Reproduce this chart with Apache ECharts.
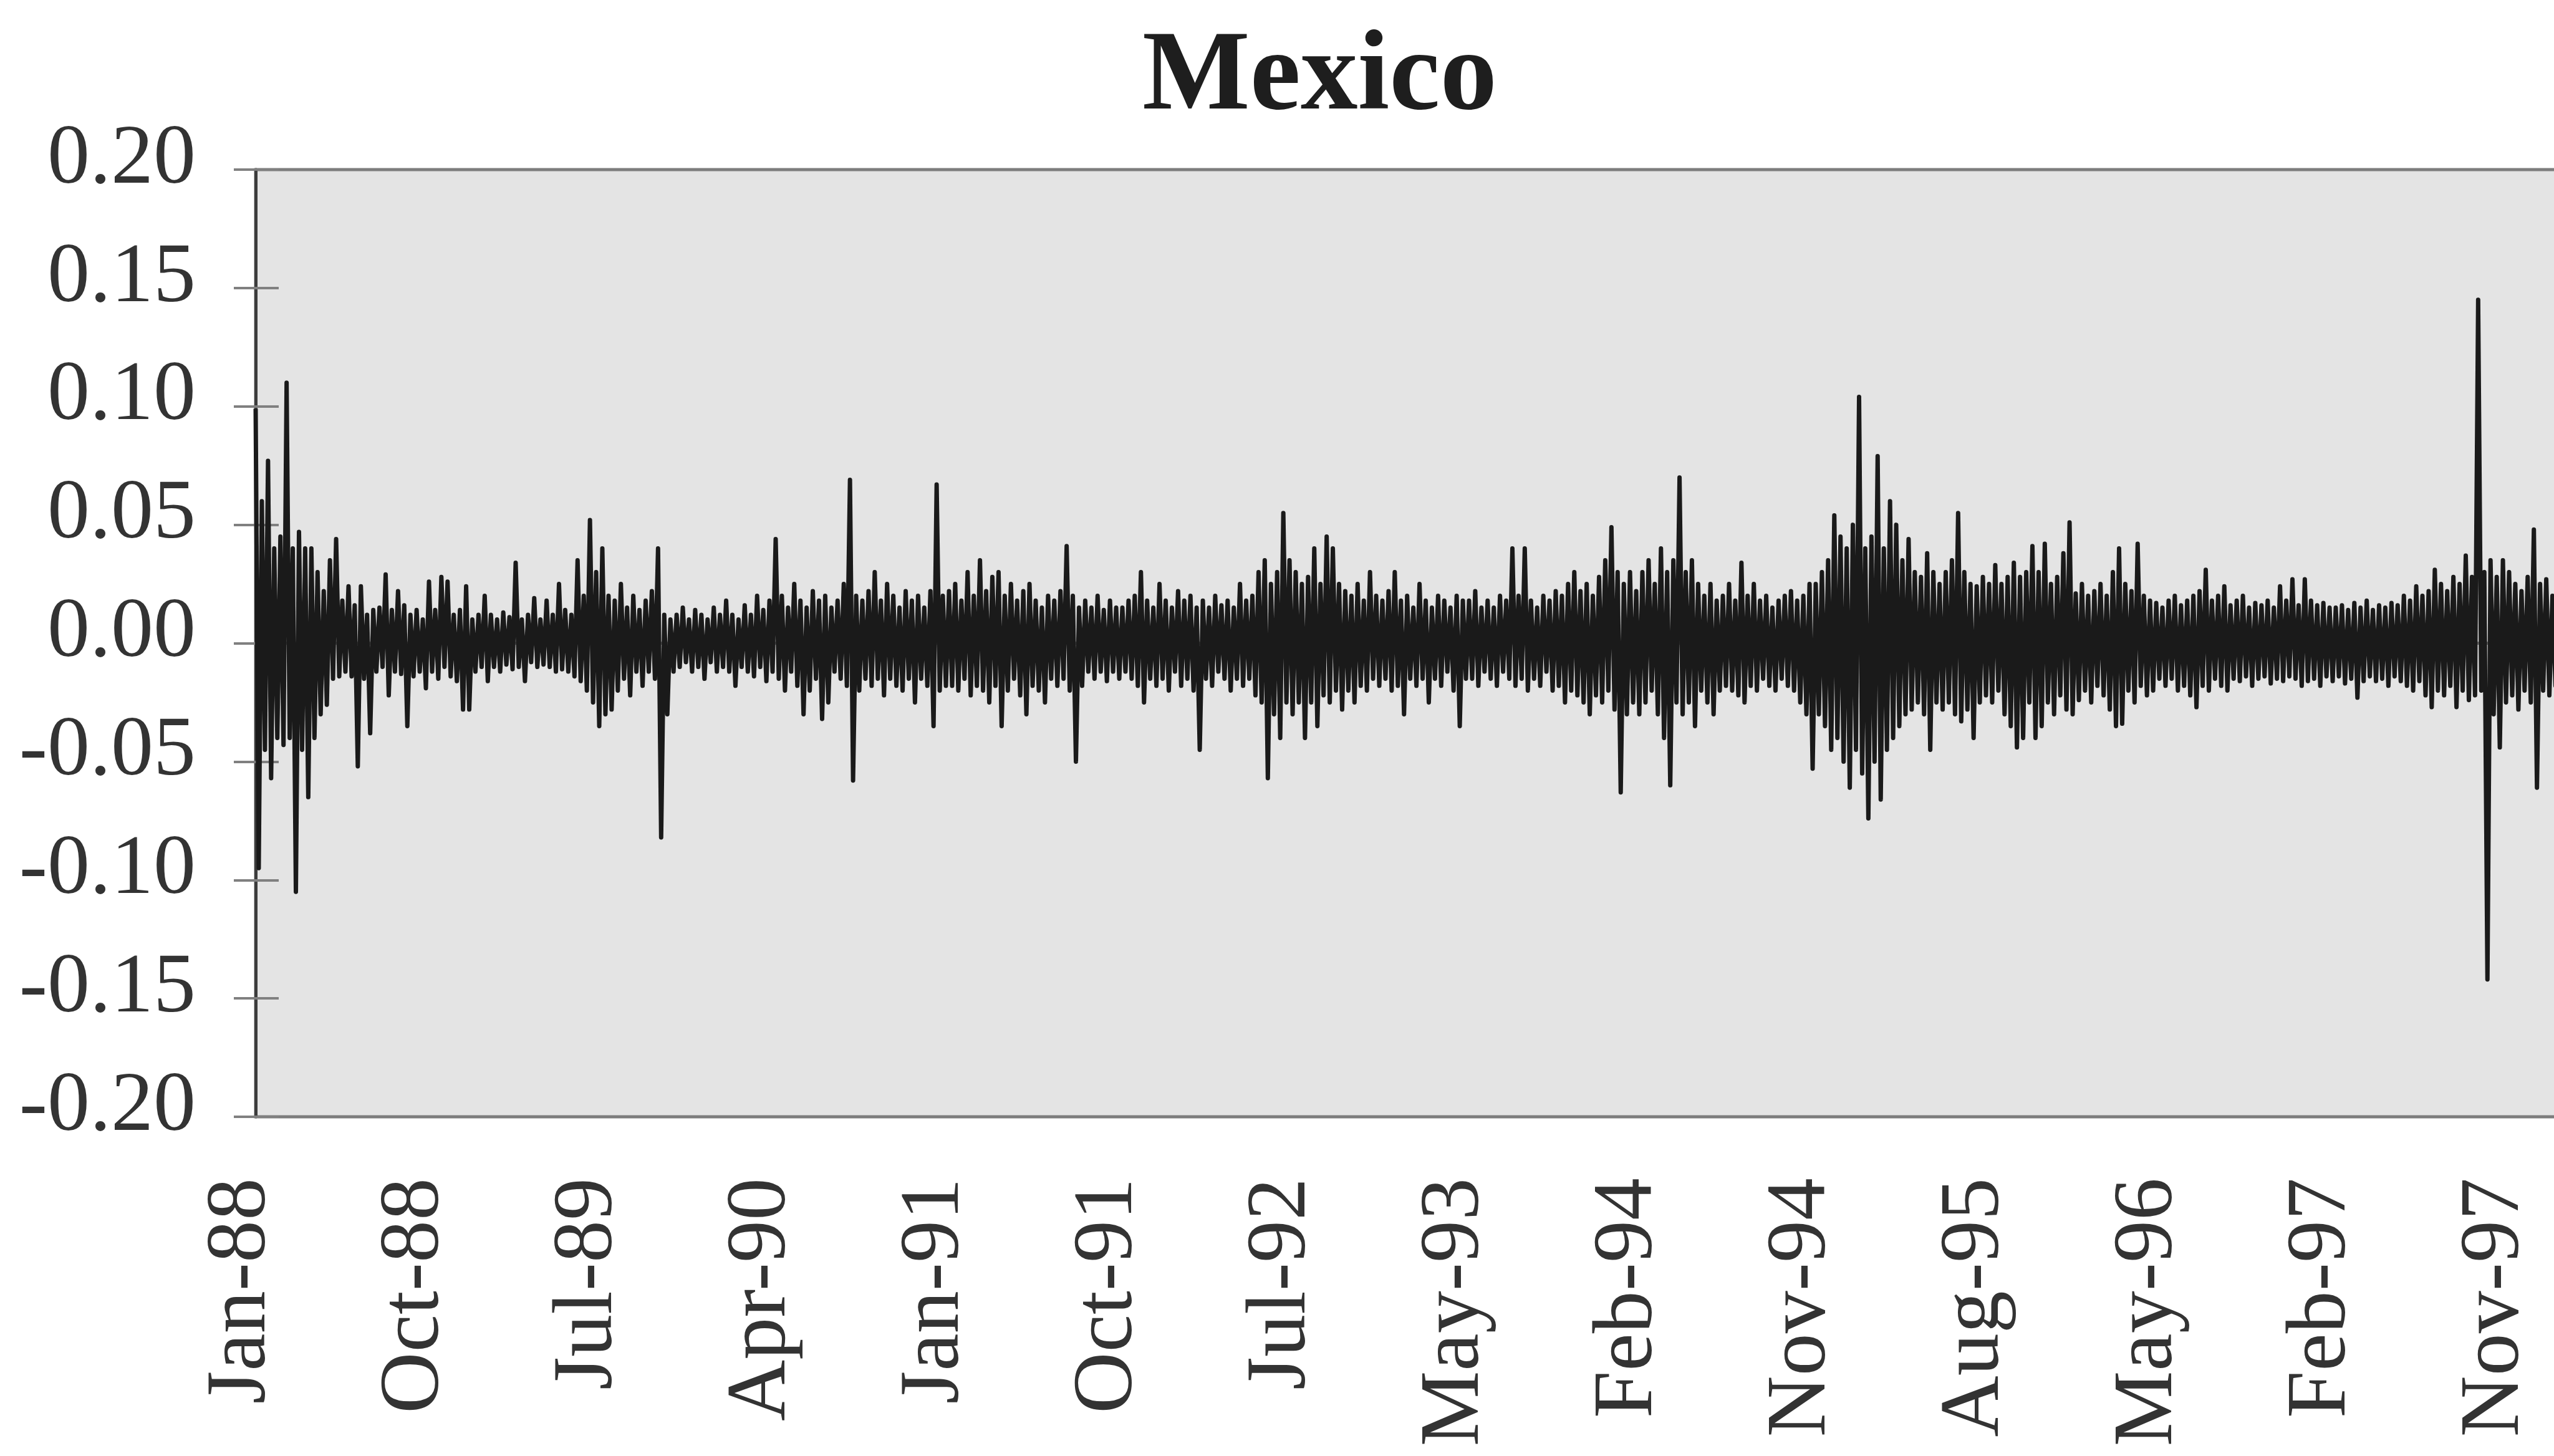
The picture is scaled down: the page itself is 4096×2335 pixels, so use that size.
<!DOCTYPE html>
<html>
<head>
<meta charset="utf-8">
<title>Mexico</title>
<script src="https://cdn.jsdelivr.net/npm/echarts@6/dist/echarts.min.js"></script>
<style>
  html, body { margin: 0; padding: 0; background: #ffffff; }
  #chart { width: 4096px; height: 2335px; }
</style>
</head>
<body>
<div id="chart"></div>
<script>
// Category labels along the date axis (one every 28 buckets of trading days)
const xTickLabels = ['Jan-88', 'Oct-88', 'Jul-89', 'Apr-90', 'Jan-91', 'Oct-91', 'Jul-92',
                     'May-93', 'Feb-94', 'Nov-94', 'Aug-95', 'May-96', 'Feb-97', 'Nov-97'];

// Return axis ticks
const yTicks = [-0.20, -0.15, -0.10, -0.05, 0.00, 0.05, 0.10, 0.15, 0.20];

// Daily returns summarised per bucket: highest and lowest return in each bucket.
// Each row below covers one labelled period (28 buckets).
const upper = [
  .099,.060,.077,.040,.045,.110,.040,.047,.040,.040,.030,.022,.035,.044,.018,.024,.016,.024,.012,.014,.015,.029,.014,.022,.016,.012,.014,.010,
  .026,.014,.028,.026,.012,.014,.024,.010,.012,.020,.012,.010,.013,.011,.034,.010,.012,.019,.010,.018,.012,.025,.014,.012,.035,.020,.052,.030,
  .040,.020,.018,.025,.015,.020,.014,.018,.022,.040,.012,.010,.012,.015,.010,.014,.012,.010,.015,.012,.018,.012,.010,.016,.012,.020,.014,.018,
  .044,.020,.015,.025,.018,.015,.022,.018,.020,.015,.018,.025,.069,.020,.018,.022,.030,.018,.025,.020,.015,.022,.018,.020,.015,.022,.067,.020,
  .022,.025,.018,.030,.020,.035,.022,.028,.030,.020,.025,.018,.022,.025,.018,.015,.020,.018,.022,.041,.020,.015,.018,.015,.020,.014,.018,.015,
  .015,.018,.020,.030,.018,.015,.025,.018,.015,.022,.018,.020,.015,.018,.015,.020,.016,.018,.015,.025,.018,.020,.030,.035,.025,.030,.055,.035,
  .030,.025,.028,.040,.025,.045,.040,.025,.022,.020,.025,.018,.030,.020,.018,.022,.030,.018,.020,.015,.025,.018,.015,.020,.018,.015,.020,.018,
  .018,.022,.015,.018,.015,.020,.018,.040,.020,.040,.018,.015,.020,.018,.022,.020,.025,.030,.022,.025,.020,.028,.035,.049,.030,.025,.030,.022,
  .030,.035,.025,.040,.030,.035,.070,.030,.035,.025,.020,.025,.018,.020,.025,.018,.034,.020,.025,.018,.020,.015,.018,.020,.022,.018,.020,.025,
  .025,.030,.035,.054,.045,.040,.050,.104,.040,.045,.079,.040,.060,.050,.035,.044,.030,.028,.038,.030,.025,.030,.035,.055,.030,.025,.024,.028,
  .025,.033,.025,.028,.034,.028,.030,.041,.030,.042,.025,.028,.038,.051,.021,.025,.020,.022,.025,.020,.030,.040,.025,.022,.042,.020,.018,.017,
  .015,.018,.020,.016,.018,.020,.022,.031,.018,.020,.024,.016,.018,.020,.015,.017,.016,.018,.015,.024,.018,.027,.016,.027,.018,.016,.017,.015,
  .015,.016,.014,.017,.015,.018,.014,.016,.015,.017,.016,.020,.018,.024,.020,.022,.031,.025,.022,.028,.025,.037,.028,.145,.030,.035,.028,.035,
  .030,.025,.022,.028,.048,.025,.027,.020,.022
];
const lower = [
  -.095,-.045,-.057,-.040,-.043,-.040,-.105,-.045,-.065,-.040,-.030,-.026,-.015,-.014,-.012,-.014,-.052,-.015,-.038,-.012,-.010,-.022,-.012,-.013,-.035,-.014,-.012,-.019,
  -.012,-.015,-.010,-.014,-.016,-.028,-.028,-.012,-.010,-.016,-.010,-.012,-.009,-.011,-.010,-.016,-.008,-.010,-.009,-.010,-.012,-.011,-.012,-.014,-.016,-.020,-.025,-.035,
  -.030,-.028,-.020,-.015,-.022,-.012,-.018,-.012,-.015,-.082,-.030,-.012,-.010,-.008,-.012,-.010,-.015,-.008,-.012,-.010,-.012,-.018,-.010,-.012,-.014,-.010,-.016,-.012,
  -.015,-.020,-.012,-.018,-.030,-.020,-.015,-.032,-.025,-.012,-.015,-.018,-.058,-.020,-.015,-.018,-.015,-.022,-.015,-.018,-.020,-.015,-.025,-.015,-.018,-.035,-.020,-.018,
  -.018,-.020,-.015,-.022,-.018,-.020,-.025,-.018,-.035,-.020,-.015,-.022,-.030,-.018,-.020,-.025,-.015,-.018,-.015,-.020,-.050,-.018,-.012,-.015,-.012,-.016,-.012,-.015,
  -.012,-.015,-.018,-.025,-.015,-.018,-.015,-.020,-.012,-.018,-.015,-.020,-.045,-.015,-.018,-.012,-.015,-.020,-.015,-.018,-.015,-.022,-.025,-.057,-.030,-.040,-.025,-.030,
  -.025,-.040,-.025,-.035,-.022,-.025,-.020,-.028,-.020,-.025,-.018,-.020,-.015,-.018,-.015,-.020,-.018,-.030,-.015,-.018,-.015,-.025,-.015,-.018,-.012,-.020,-.035,-.015,
  -.015,-.018,-.012,-.015,-.018,-.012,-.015,-.018,-.015,-.020,-.015,-.018,-.012,-.020,-.018,-.025,-.020,-.022,-.025,-.030,-.022,-.025,-.020,-.028,-.063,-.030,-.025,-.030,
  -.025,-.020,-.030,-.040,-.060,-.025,-.030,-.025,-.035,-.020,-.025,-.030,-.020,-.018,-.020,-.022,-.025,-.018,-.020,-.015,-.018,-.020,-.015,-.018,-.020,-.025,-.030,-.053,
  -.030,-.035,-.045,-.040,-.050,-.061,-.045,-.055,-.074,-.050,-.066,-.045,-.040,-.035,-.030,-.028,-.025,-.030,-.045,-.025,-.028,-.025,-.030,-.033,-.028,-.040,-.025,-.022,
  -.025,-.020,-.030,-.035,-.044,-.040,-.025,-.040,-.035,-.025,-.030,-.022,-.028,-.030,-.024,-.020,-.025,-.018,-.022,-.028,-.035,-.034,-.020,-.025,-.018,-.022,-.020,-.015,
  -.018,-.015,-.020,-.018,-.022,-.027,-.018,-.020,-.015,-.018,-.020,-.015,-.016,-.014,-.018,-.015,-.014,-.017,-.015,-.016,-.014,-.015,-.018,-.016,-.015,-.018,-.014,-.016,
  -.014,-.017,-.015,-.023,-.016,-.014,-.016,-.015,-.018,-.014,-.016,-.018,-.020,-.016,-.022,-.027,-.020,-.022,-.018,-.027,-.020,-.024,-.022,-.020,-.142,-.030,-.044,-.025,
  -.022,-.028,-.020,-.025,-.061,-.020,-.022,-.018,-.020
];

// Two points per bucket (high then low) along a point-index x axis
const POINTS_PER_LABEL = 56;
const returns = [];
for (let i = 0; i < upper.length; i++) {
  returns.push([2 * i, upper[i]]);
  returns.push([2 * i + 1, lower[i]]);
}
const lastIndex = returns.length - 1;
const labelSpacing = 278;                         // px between date labels
const pointStep = labelSpacing / POINTS_PER_LABEL;

const serif = 'Liberation Serif, "Times New Roman", serif';
const yMin = yTicks[0];
const yMax = yTicks[yTicks.length - 1];
const yStep = +(yTicks[1] - yTicks[0]).toFixed(2);

const chart = echarts.init(document.getElementById('chart'), null, { renderer: 'canvas' });

chart.setOption({
  animation: false,
  backgroundColor: '#ffffff',
  title: {
    text: 'Mexico',
    left: 1832,
    top: 35,
    padding: 0,
    textStyle: {
      fontFamily: serif,
      fontWeight: 'bold',
      fontSize: 183,
      lineHeight: 183,
      color: '#1e1e1e'
    }
  },
  grid: {
    left: 410,
    top: 272,
    width: lastIndex * pointStep,
    height: 1519,
    show: true,
    backgroundColor: '#e4e4e4',
    borderColor: '#7d7d7d',
    borderWidth: 5,
    containLabel: false,
    outerBoundsMode: 'none'
  },
  xAxis: {
    type: 'value',
    min: 0,
    max: lastIndex,
    interval: POINTS_PER_LABEL,
    axisLine: { show: true, lineStyle: { color: '#7d7d7d', width: 5 } },
    axisTick: { show: false },
    splitLine: { show: false },
    axisLabel: {
      rotate: 90,
      margin: 98,
      fontFamily: serif,
      fontSize: 136,
      color: '#333333',
      // labels sit a little before their tick: a short line box aligned to its bottom
      verticalAlign: 'bottom',
      lineHeight: 44,
      showMaxLabel: false,
      formatter: function (v) {
        return v % POINTS_PER_LABEL === 0 ? (xTickLabels[v / POINTS_PER_LABEL] || '') : '';
      }
    }
  },
  yAxis: [
    {
      type: 'value',
      position: 'left',
      min: yMin,
      max: yMax,
      interval: yStep,
      axisLine: { show: true, lineStyle: { color: '#3c3c3c', width: 5 } },
      axisTick: { show: true, inside: false, length: 35, lineStyle: { color: '#808080', width: 4 } },
      splitLine: { show: false },
      axisLabel: {
        margin: 96,
        fontFamily: serif,
        fontSize: 136,
        color: '#333333',
        verticalAlign: 'bottom',
        lineHeight: 30,
        formatter: function (v) {
          return (Math.abs(v) < 1e-9 ? 0 : v).toFixed(2);
        }
      }
    },
    {
      // inner half of the cross tick marks
      type: 'value',
      position: 'left',
      min: yMin,
      max: yMax,
      interval: yStep,
      axisLine: { show: false },
      axisTick: { show: true, inside: true, length: 37, lineStyle: { color: '#808080', width: 4 } },
      axisLabel: { show: false },
      splitLine: { show: false }
    }
  ],
  series: [
    {
      type: 'line',
      data: returns,
      symbol: 'none',
      showSymbol: false,
      silent: true,
      clip: true,
      lineStyle: { color: '#1a1a1a', width: 7, join: 'round' }
    }
  ]
});
</script>
</body>
</html>
